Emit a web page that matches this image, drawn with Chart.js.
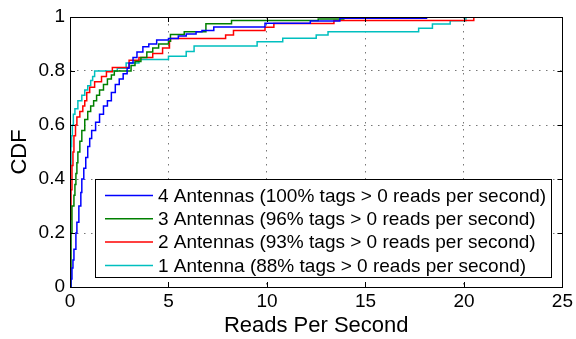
<!DOCTYPE html>
<html>
<head>
<meta charset="utf-8">
<script src="https://cdn.jsdelivr.net/npm/chart.js@4/dist/chart.umd.min.js"></script>
<style>
  html, body { margin: 0; padding: 0; background: #fff; }
  #wrap { width: 576px; height: 339px; }
</style>
</head>
<body>
<div id="wrap"><canvas id="cdf"></canvas></div>
<script>
// Step-CDF breakpoints: reads per second where the CDF jumps, and the level after the jump.
const readsAnt4 = [0, 0.05, 0.1, 0.15, 0.2, 0.3, 0.35, 0.45, 0.55, 0.6, 0.7, 0.8, 0.9, 1.0, 1.1, 1.3, 1.5, 1.7, 1.9, 2.1, 2.3, 2.5, 2.7, 2.9, 3.0, 3.2, 3.4, 3.7, 4.0, 4.4, 5.0, 5.5, 5.9, 6.4, 6.7, 7.3, 9.9, 12.2, 13.7, 18.1];
const cdfAnt4   = [0, 0.03, 0.07, 0.1, 0.14, 0.2, 0.24, 0.3, 0.35, 0.4, 0.44, 0.48, 0.52, 0.55, 0.58, 0.61, 0.64, 0.67, 0.69, 0.72, 0.75, 0.77, 0.79, 0.81, 0.83, 0.85, 0.87, 0.89, 0.9, 0.915, 0.92, 0.93, 0.937, 0.945, 0.95, 0.963, 0.977, 0.985, 0.995, 1];

const readsAnt3 = [0, 0.05, 0.1, 0.2, 0.25, 0.3, 0.35, 0.4, 0.5, 0.6, 0.75, 0.9, 1.05, 1.2, 1.35, 1.5, 1.7, 1.9, 2.1, 2.25, 3.1, 3.3, 3.6, 3.9, 4.2, 4.5, 5.0, 5.1, 5.8, 6.9, 8.2, 12.6, 13.9];
const cdfAnt3   = [0, 0.2, 0.3, 0.34, 0.38, 0.42, 0.46, 0.5, 0.54, 0.58, 0.62, 0.65, 0.67, 0.69, 0.71, 0.73, 0.75, 0.77, 0.785, 0.8, 0.82, 0.835, 0.85, 0.87, 0.885, 0.9, 0.91, 0.935, 0.945, 0.975, 0.987, 0.993, 1];

const readsAnt2 = [0, 0.02, 0.05, 0.1, 0.15, 0.2, 0.28, 0.35, 0.5, 0.65, 0.75, 0.85, 1.0, 1.25, 1.6, 1.85, 2.15, 3.0, 3.5, 4.2, 4.7, 5.05, 5.1, 7.9, 8.3, 9.9, 10.35, 13.4, 20.5];
const cdfAnt2   = [0, 0.25, 0.36, 0.45, 0.5, 0.56, 0.6, 0.63, 0.65, 0.67, 0.69, 0.72, 0.74, 0.76, 0.78, 0.797, 0.813, 0.84, 0.85, 0.865, 0.885, 0.91, 0.92, 0.933, 0.95, 0.962, 0.976, 0.987, 1];

const readsAnt1 = [0, 0.02, 0.05, 0.08, 0.12, 0.17, 0.25, 0.4, 0.6, 0.75, 0.9, 1.05, 1.15, 1.25, 2.4, 2.85, 3.5, 5.0, 5.9, 6.3, 9.5, 10.8, 12.5, 13.1, 17.7, 18.4, 19.3, 20.1];
const cdfAnt1   = [0, 0.45, 0.52, 0.56, 0.6, 0.64, 0.66, 0.69, 0.71, 0.73, 0.745, 0.765, 0.78, 0.8, 0.81, 0.83, 0.843, 0.855, 0.872, 0.893, 0.908, 0.921, 0.933, 0.945, 0.958, 0.974, 0.986, 1];

const seriesLabels = [
  '4 Antennas (100% tags > 0 reads per second)',
  '3 Antennas (96% tags > 0 reads per second)',
  '2 Antennas (93% tags > 0 reads per second)',
  '1 Antenna (88% tags > 0 reads per second)'
];
const seriesColors = ['#0000ff', '#008000', '#ff0000', '#00bfbf'];

const xTicks = [0, 5, 10, 15, 20, 25];
const yTicks = [0, 0.2, 0.4, 0.6, 0.8, 1];

const FONT = '"Liberation Sans", Arial, Helvetica, sans-serif';

function points(xs, ys) {
  return xs.map((x, i) => ({ x: x, y: ys[i] }));
}

const allX = [readsAnt4, readsAnt3, readsAnt2, readsAnt1];
const allY = [cdfAnt4, cdfAnt3, cdfAnt2, cdfAnt1];

// 'before': hold the previous level horizontally, then jump up at the new x.
const datasets = seriesLabels.map((label, i) => ({
  label: label,
  data: points(allX[i], allY[i]),
  borderColor: seriesColors[i],
  backgroundColor: seriesColors[i],
  borderWidth: 1.5,
  pointRadius: 0,
  stepped: 'before',
  fill: false
}));

// Box frame with inward tick marks on all four sides.
const framePlugin = {
  id: 'frame',
  afterDatasetsDraw(chart) {
    const { ctx, chartArea: a, scales } = chart;
    ctx.save();
    ctx.strokeStyle = '#000';
    ctx.lineWidth = 1;
    const tl = 5;
    ctx.beginPath();
    xTicks.forEach(v => {
      const px = Math.round(scales.x.getPixelForValue(v)) + 0.5;
      ctx.moveTo(px, a.bottom); ctx.lineTo(px, a.bottom - tl);
      ctx.moveTo(px, a.top); ctx.lineTo(px, a.top + tl);
    });
    yTicks.forEach(v => {
      const py = Math.round(scales.y.getPixelForValue(v)) + 0.5;
      ctx.moveTo(a.left, py); ctx.lineTo(a.left + tl, py);
      ctx.moveTo(a.right, py); ctx.lineTo(a.right - tl, py);
    });
    ctx.stroke();
    ctx.strokeRect(Math.round(a.left) + 0.5, Math.round(a.top) + 0.5,
                   Math.round(a.right - a.left), Math.round(a.bottom - a.top));
    ctx.restore();
  }
};

// Boxed legend placed inside the plot area, lower right.
const boxLegendPlugin = {
  id: 'boxLegend',
  afterDraw(chart) {
    const { ctx } = chart;
    const left = 95, top = 179, width = 456, height = 98;
    const rowH = 23.3, firstRow = 195.5;
    ctx.save();
    ctx.fillStyle = '#fff';
    ctx.fillRect(left, top, width, height);
    ctx.strokeStyle = '#000';
    ctx.lineWidth = 1;
    ctx.strokeRect(left + 0.5, top + 0.5, width, height);
    ctx.font = '19px ' + FONT;
    ctx.textBaseline = 'middle';
    ctx.textAlign = 'left';
    chart.data.datasets.forEach((ds, i) => {
      const y = firstRow + i * rowH;
      ctx.strokeStyle = ds.borderColor;
      ctx.lineWidth = 1.5;
      ctx.beginPath();
      ctx.moveTo(105, y);
      ctx.lineTo(153, y);
      ctx.stroke();
      ctx.fillStyle = '#000';
      ctx.fillText(ds.label, 158, y + 1);
    });
    ctx.restore();
  }
};

new Chart(document.getElementById('cdf'), {
  type: 'line',
  data: { datasets: datasets },
  options: {
    responsive: true,
    maintainAspectRatio: false,
    animation: false,
    layout: { padding: { top: 17, right: 8, left: 0, bottom: 0 } },
    plugins: {
      legend: { display: false },
      tooltip: { enabled: false }
    },
    scales: {
      x: {
        type: 'linear',
        min: 0,
        max: 25,
        afterBuildTicks(scale) { scale.ticks = xTicks.map(v => ({ value: v })); },
        afterFit(scale) { scale.height = 52; },
        ticks: {
          color: '#000',
          font: { family: FONT, size: 19 },
          padding: 3,
          maxRotation: 0,
          callback: v => String(v)
        },
        grid: {
          color: '#777',
          lineWidth: 1,
          drawTicks: false
        },
        border: { display: false, dash: [1.5, 5.5] },
        title: {
          display: true,
          text: 'Reads Per Second',
          color: '#000',
          font: { family: FONT, size: 22 },
          padding: { top: 0, bottom: 0 }
        }
      },
      y: {
        type: 'linear',
        min: 0,
        max: 1,
        afterBuildTicks(scale) { scale.ticks = yTicks.map(v => ({ value: v })); },
        afterFit(scale) { scale.width = 70; },
        ticks: {
          color: '#000',
          font: { family: FONT, size: 19 },
          padding: 5,
          callback: v => String(Math.round(v * 10) / 10)
        },
        grid: {
          color: '#777',
          lineWidth: 1,
          drawTicks: false
        },
        border: { display: false, dash: [1.5, 5.5] },
        title: {
          display: true,
          text: 'CDF',
          color: '#000',
          font: { family: FONT, size: 22 },
          padding: { top: 7, bottom: 0 }
        }
      }
    }
  },
  plugins: [framePlugin, boxLegendPlugin]
});
</script>
</body>
</html>
